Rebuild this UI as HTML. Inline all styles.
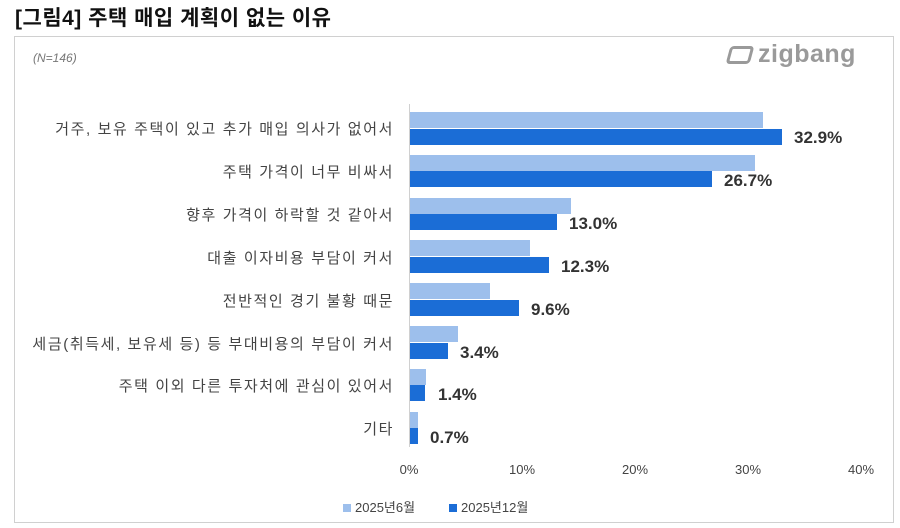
<!DOCTYPE html>
<html><head><meta charset="utf-8"><style>
body{margin:0;width:900px;height:528px;background:#fff;font-family:"Liberation Sans","Noto Sans CJK KR",sans-serif;position:relative;overflow:hidden}
.t{position:absolute;left:15px;top:2px;font-size:21px;font-weight:bold;color:#111;white-space:nowrap;letter-spacing:0.5px}
.box{position:absolute;left:14px;top:36px;width:878px;height:485px;border:1px solid #d0d0d0}
.n{position:absolute;left:33px;top:51px;font-size:12px;font-style:italic;color:#777}
.logo{position:absolute;left:728px;top:40px;font-size:25px;color:#9a9a9a;font-weight:bold;letter-spacing:0.5px}
.lb{position:absolute;right:506px;font-size:15px;color:#444;white-space:nowrap;text-align:right;letter-spacing:1.6px}
.b{position:absolute;left:410px;height:16px}
.l{background:#9dbfec}.d{background:#1b6dd6}
.v{position:absolute;font-size:17px;font-weight:bold;color:#333}
.ax{position:absolute;left:409px;top:104px;width:1px;height:343px;background:#d0d0d0}
.tk{position:absolute;top:462px;font-size:13px;color:#444;width:50px;text-align:center}
.lg{position:absolute;top:497px;font-size:13px;color:#444}
.sq{display:inline-block;width:8px;height:8px;margin-right:4px;vertical-align:0}
</style></head><body>
<div class="t">[그림4] 주택 매입 계획이 없는 이유</div>
<div class="box"></div>
<div class="n">(N=146)</div>
<div class="logo"><span style="display:inline-block;width:24px;height:18px;border:3px solid #9a9a9a;border-radius:4px;transform:skewX(-15deg);vertical-align:-2px;margin-right:6px;box-sizing:border-box"></span>zigbang</div>
<div class="ax"></div>
<div class="lb" style="top:118px">거주, 보유 주택이 있고 추가 매입 의사가 없어서</div>
<div class="lb" style="top:161px">주택 가격이 너무 비싸서</div>
<div class="lb" style="top:204px">향후 가격이 하락할 것 같아서</div>
<div class="lb" style="top:247px">대출 이자비용 부담이 커서</div>
<div class="lb" style="top:290px">전반적인 경기 불황 때문</div>
<div class="lb" style="top:333px">세금(취득세, 보유세 등) 등 부대비용의 부담이 커서</div>
<div class="lb" style="top:375px">주택 이외 다른 투자처에 관심이 있어서</div>
<div class="lb" style="top:418px">기타</div>

<div class="b l" style="top:112px;width:353px"></div><div class="b d" style="top:129px;width:372px"></div><div class="v" style="left:794px;top:128px">32.9%</div>
<div class="b l" style="top:155px;width:345px"></div><div class="b d" style="top:171px;width:302px"></div><div class="v" style="left:724px;top:171px">26.7%</div>
<div class="b l" style="top:198px;width:161px"></div><div class="b d" style="top:214px;width:147px"></div><div class="v" style="left:569px;top:214px">13.0%</div>
<div class="b l" style="top:240px;width:120px"></div><div class="b d" style="top:257px;width:139px"></div><div class="v" style="left:561px;top:257px">12.3%</div>
<div class="b l" style="top:283px;width:80px"></div><div class="b d" style="top:300px;width:109px"></div><div class="v" style="left:531px;top:300px">9.6%</div>
<div class="b l" style="top:326px;width:48px"></div><div class="b d" style="top:343px;width:38px"></div><div class="v" style="left:460px;top:343px">3.4%</div>
<div class="b l" style="top:369px;width:16px"></div><div class="b d" style="top:385px;width:15px"></div><div class="v" style="left:438px;top:385px">1.4%</div>
<div class="b l" style="top:412px;width:8px"></div><div class="b d" style="top:428px;width:8px"></div><div class="v" style="left:430px;top:428px">0.7%</div>

<div class="tk" style="left:384px">0%</div>
<div class="tk" style="left:497px">10%</div>
<div class="tk" style="left:610px">20%</div>
<div class="tk" style="left:723px">30%</div>
<div class="tk" style="left:836px">40%</div>
<div class="lg" style="left:343px"><span class="sq" style="background:#9dbfec"></span>2025년6월</div>
<div class="lg" style="left:449px"><span class="sq" style="background:#1b6dd6"></span>2025년12월</div>
</body></html>
